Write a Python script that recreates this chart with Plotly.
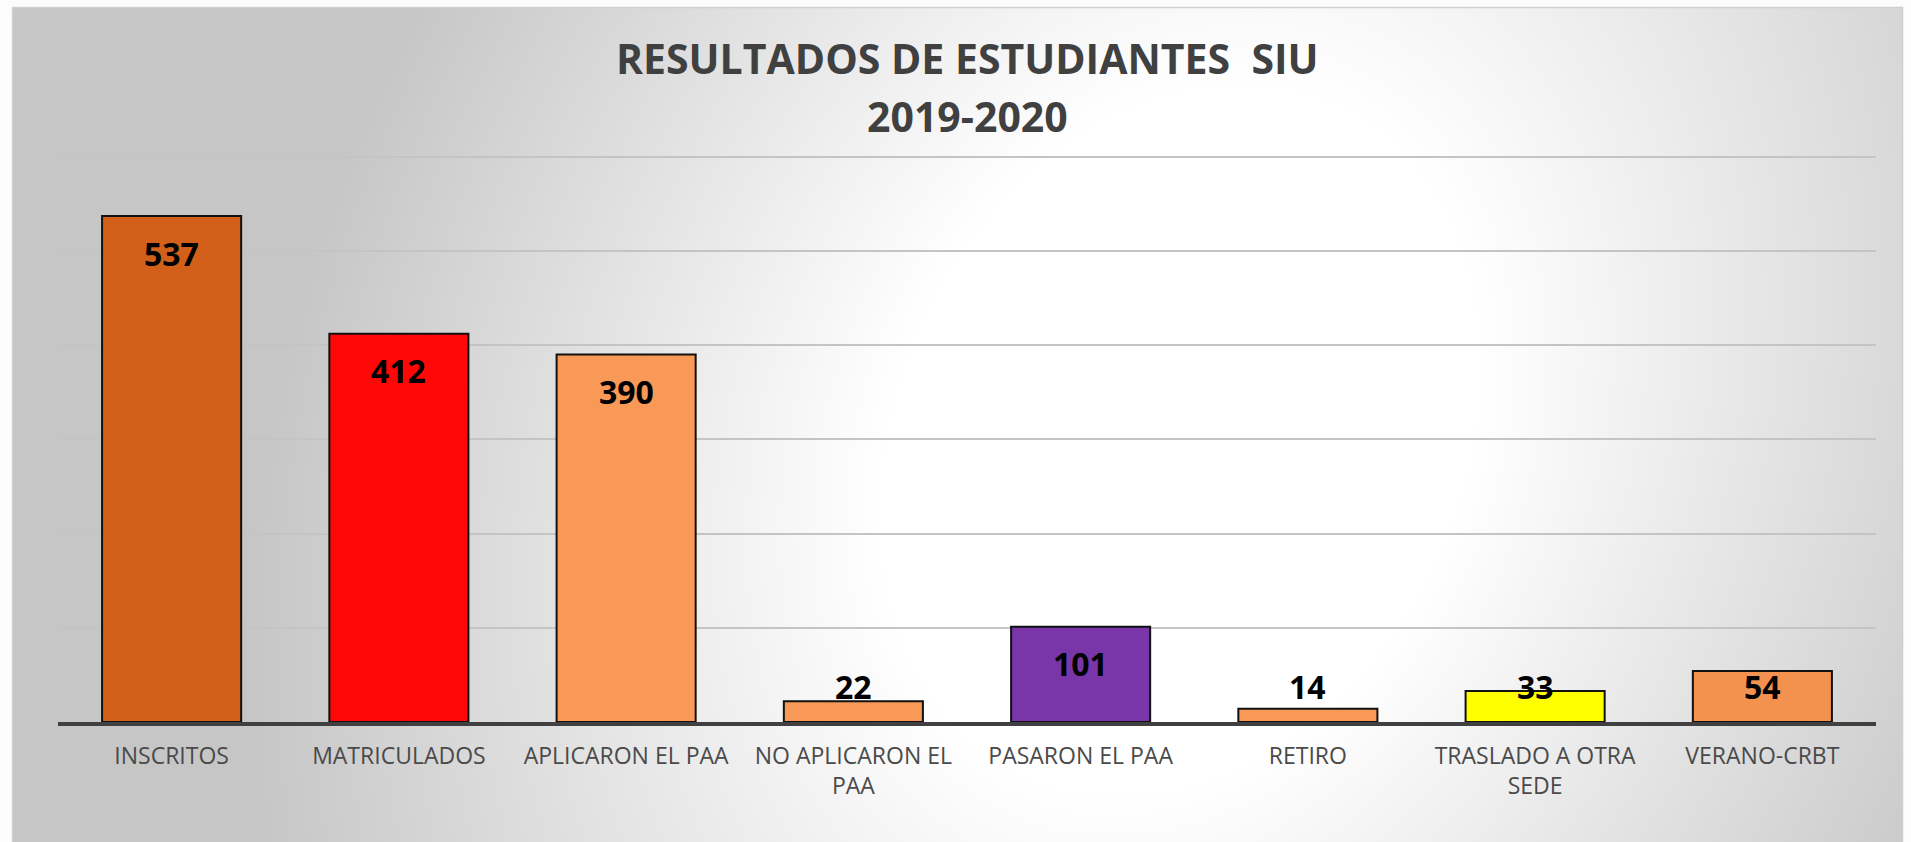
import base64
import plotly.graph_objects as go

# ---- data ----
categories = ["INSCRITOS", "MATRICULADOS", "APLICARON EL PAA", "NO APLICARON EL<br>PAA",
              "PASARON EL PAA", "RETIRO", "TRASLADO A OTRA<br>SEDE", "VERANO-CRBT"]
values = [537, 412, 390, 22, 101, 14, 33, 54]
bar_colors = ["#D2601A", "#FF0707", "#F89957", "#F89957", "#7836A8", "#F89957", "#FFFF00", "#F3924F"]
title_line1 = "RESULTADOS DE ESTUDIANTES \u00a0SIU"
title_line2 = "2019-2020"

W, H = 1911, 842
ML, MR, MT, MB = 58, 35, 152, 120
PW, PH = W - ML - MR, H - MT - MB
YMAX = 605

# background: tilted radial gradient like the Excel chart area
svg = f'''<svg xmlns="http://www.w3.org/2000/svg" width="{W}" height="{H}" viewBox="0 0 {W} {H}">
<defs><radialGradient id="g" gradientUnits="userSpaceOnUse" cx="0" cy="0" r="1"
 gradientTransform="translate(1180,440) rotate(-65) scale(1150,880)">
<stop offset="0" stop-color="#ffffff"/><stop offset="0.32" stop-color="#ffffff"/>
<stop offset="1" stop-color="#c6c6c6"/></radialGradient></defs>
<rect x="0" y="0" width="{W}" height="{H}" fill="#fcfcfc"/>
<rect x="12.5" y="7.5" width="1890" height="840" fill="url(#g)" stroke="#cfcfcf" stroke-width="1.5"/>
</svg>'''
src = "data:image/svg+xml;base64," + base64.b64encode(svg.encode()).decode()

fig = go.Figure()
fig.add_trace(go.Bar(
    x=categories, y=values,
    marker=dict(color=bar_colors, line=dict(color="#111111", width=2)),
    hoverinfo="x+y",
))

px_per_unit = PH / YMAX
for c, v in zip(categories, values):
    ylab = max(v - 37.0 / px_per_unit, 38.0)
    fig.add_annotation(x=c, y=ylab, xref="x", yref="y", text=f"<b>{v}</b>",
                       showarrow=False, yanchor="middle",
                       font=dict(family="Open Sans", size=32, color="#000000"))

def py2paper(py):
    return 1 - (py - MT) / PH

fig.add_annotation(x=0.5, xref="paper", y=py2paper(58), yref="paper", yanchor="middle",
                   text=f"<b>{title_line1}</b>", showarrow=False,
                   font=dict(family="Open Sans", size=41, color="#404040"))
fig.add_annotation(x=0.5, xref="paper", y=py2paper(116), yref="paper", yanchor="middle",
                   text=f"<b>{title_line2}</b>", showarrow=False,
                   font=dict(family="Open Sans", size=41, color="#404040"))

fig.update_layout(
    width=W, height=H,
    margin=dict(l=ML, r=MR, t=MT, b=MB, pad=0),
    paper_bgcolor="rgba(0,0,0,0)", plot_bgcolor="rgba(0,0,0,0)",
    bargap=0.388, showlegend=False,
    images=[dict(source=src, xref="paper", yref="paper",
                 x=-ML / PW, y=1 + MT / PH, sizex=W / PW, sizey=H / PH,
                 xanchor="left", yanchor="top", sizing="stretch", layer="below")],
    xaxis=dict(showline=True, linecolor="#404040", linewidth=4, ticks="",
               ticklabelstandoff=10,
               tickfont=dict(family="Open Sans", size=23, color="#4a4a4a"),
               showgrid=False, fixedrange=True),
    yaxis=dict(range=[0, YMAX], tick0=0, dtick=100, showticklabels=False, ticks="",
               showgrid=True, gridcolor="#c4c4c4", gridwidth=1.5,
               zeroline=False, fixedrange=True),
)

fig.write_html("out.html", config={"displayModeBar": False})
